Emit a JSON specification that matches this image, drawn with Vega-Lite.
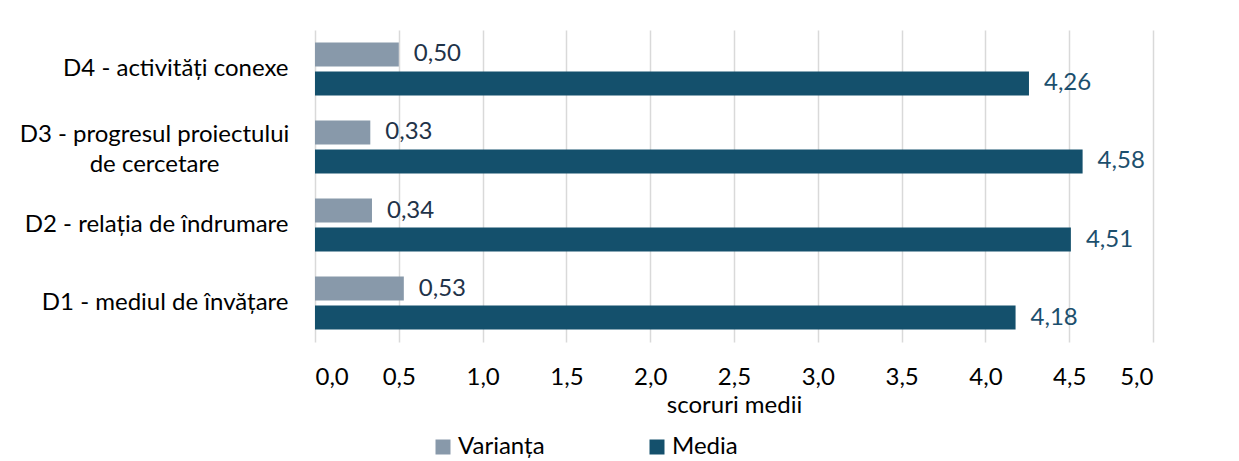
{
  "$schema": "https://vega.github.io/schema/vega-lite/v6.json",
  "autosize": {"type": "none"},
  "padding": {"left": 315, "top": 30, "right": 86, "bottom": 119},
  "width": 838,
  "height": 312,
  "background": "#ffffff",
  "data": {
    "values": [
      {"dim": "D1 - mediul de învățare", "serie": "Varianța", "valoare": 0.53},
      {"dim": "D1 - mediul de învățare", "serie": "Media", "valoare": 4.18},
      {"dim": "D2 - relația de îndrumare", "serie": "Varianța", "valoare": 0.34},
      {"dim": "D2 - relația de îndrumare", "serie": "Media", "valoare": 4.51},
      {"dim": "D3 - progresul proiectului de cercetare", "serie": "Varianța", "valoare": 0.33},
      {"dim": "D3 - progresul proiectului de cercetare", "serie": "Media", "valoare": 4.58},
      {"dim": "D4 - activități conexe", "serie": "Varianța", "valoare": 0.50},
      {"dim": "D4 - activități conexe", "serie": "Media", "valoare": 4.26}
    ]
  },
  "encoding": {
    "y": {
      "field": "dim",
      "type": "nominal",
      "sort": ["D4 - activități conexe", "D3 - progresul proiectului de cercetare", "D2 - relația de îndrumare", "D1 - mediul de învățare"],
      "scale": {"paddingInner": 0.3205, "paddingOuter": 0.16},
      "axis": {
        "title": null,
        "domain": false,
        "ticks": false,
        "tickSize": 0,
        "labelPadding": {"condition": {"test": "datum.value == 'D3 - progresul proiectului de cercetare'", "value": 161}, "value": 27},
        "labelAlign": {"condition": {"test": "datum.value == 'D3 - progresul proiectului de cercetare'", "value": "center"}, "value": "right"},
        "labelOffset": {"condition": {"test": "datum.value == 'D3 - progresul proiectului de cercetare'", "value": -12}, "value": 0},
        "labelFont": "Lato",
        "labelFontSize": 24,
        "labelColor": "#000000",
        "labelLineHeight": 30,
        "labelLimit": 400,
        "labelExpr": "datum.value == 'D3 - progresul proiectului de cercetare' ? ['D3 - progresul proiectului', 'de cercetare'] : datum.value"
      }
    },
    "yOffset": {
      "field": "serie",
      "type": "nominal",
      "sort": ["Varianța", "Media"],
      "scale": {"paddingInner": 0.1724, "paddingOuter": 0}
    },
    "x": {
      "field": "valoare",
      "type": "quantitative",
      "scale": {"domain": [0, 5], "nice": false},
      "axis": {
        "title": "scoruri medii",
        "values": [0, 0.5, 1, 1.5, 2, 2.5, 3, 3.5, 4, 4.5, 5],
        "format": ".1f",
        "domain": false,
        "ticks": false,
        "tickSize": 0,
        "grid": true,
        "gridColor": "#d9d9d9",
        "gridWidth": 1.5,
        "labelPadding": 23,
        "labelFont": "Lato",
        "labelFontSize": 24,
        "labelColor": "#000000",
        "titleFont": "Lato",
        "titleFontSize": 24,
        "titleFontWeight": "normal",
        "titleColor": "#000000",
        "titlePadding": 4
      }
    }
  },
  "layer": [
    {
      "mark": {"type": "bar"},
      "encoding": {
        "color": {
          "field": "serie",
          "type": "nominal",
          "sort": ["Varianța", "Media"],
          "scale": {"domain": ["Varianța", "Media"], "range": ["#8899aa", "#14506c"]},
          "legend": {
            "title": null,
            "orient": "none",
            "direction": "horizontal",
            "legendX": 116,
            "legendY": 405,
            "padding": 0,
            "symbolType": "square",
            "symbolSize": 225,
            "symbolStrokeWidth": 0,
            "labelOffset": 3,
            "labelFont": "Lato",
            "labelFontSize": 24,
            "labelColor": "#000000",
            "columnPadding": 100
          }
        }
      }
    },
    {
      "transform": [{"filter": "datum.serie == 'Varianța'"}],
      "mark": {"type": "text", "align": "left", "baseline": "middle", "dx": 15, "font": "Lato", "fontSize": 24, "color": "#1f3349"},
      "encoding": {"text": {"field": "valoare", "type": "quantitative", "format": ".2f"}}
    },
    {
      "transform": [{"filter": "datum.serie == 'Media'"}],
      "mark": {"type": "text", "align": "left", "baseline": "middle", "dx": 15, "font": "Lato", "fontSize": 24, "color": "#1c4f6d"},
      "encoding": {"text": {"field": "valoare", "type": "quantitative", "format": ".2f"}}
    }
  ],
  "config": {
    "view": {"stroke": null},
    "locale": {"number": {"decimal": ",", "thousands": ".", "grouping": [3], "currency": ["", " lei"]}}
  }
}
